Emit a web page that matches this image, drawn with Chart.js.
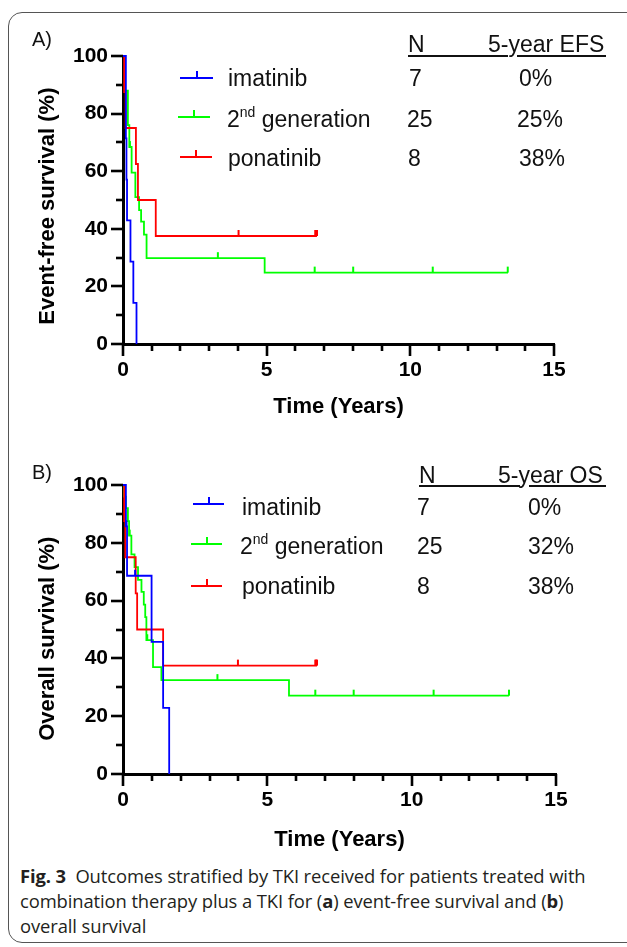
<!DOCTYPE html>
<html><head><meta charset="utf-8">
<script src="https://cdn.jsdelivr.net/npm/chart.js@4.4.1/dist/chart.umd.min.js"></script>
<style>
html,body{margin:0;padding:0;background:#fff;}
body{width:627px;height:947px;position:relative;overflow:hidden;font-family:"Liberation Sans",Arial,sans-serif;color:#111;}
.frame{position:absolute;left:8px;top:12px;width:680px;height:931px;border:1.3px solid #555;border-radius:14px;box-sizing:border-box;}
canvas.cv{position:absolute;left:0;}
.t{position:absolute;white-space:nowrap;line-height:24px;height:24px;}
.panel{font-size:20px;}
.lg{font-size:23px;}
.lg sup{font-size:14px;vertical-align:top;line-height:12px;position:relative;top:-1px;}
.ul{position:absolute;height:1.6px;background:#111;}
.icon{position:absolute;height:2px;}
.icon i{position:absolute;left:50%;top:-6px;width:2px;height:6px;margin-left:-1px;}
.cap{position:absolute;left:20px;top:863px;font-family:"Open Sans",sans-serif;font-size:18.4px;color:#231f20;line-height:25px;white-space:nowrap;letter-spacing:-0.1px;}
</style></head>
<body>
<div class="frame"></div>
<canvas id="chartA" class="cv" width="627" height="430" style="top:0px"></canvas>
<canvas id="chartB" class="cv" width="627" height="430" style="top:430px"></canvas>

<div class="t panel" style="left:32px;top:27px">A)</div>
<div class="t panel" style="left:32px;top:460px">B)</div>

<!-- legend A -->
<div class="t lg" style="left:408px;top:32px">N</div>
<div class="t lg" style="left:488px;top:32px">5-year EFS</div>
<div class="ul" style="left:408px;width:100px;top:55px"></div>
<div class="ul" style="left:517px;width:89px;top:55px"></div>
<div class="icon" style="left:180px;width:33px;top:77px;background:#0000ff"><i style="background:#0000ff"></i></div>
<div class="icon" style="left:178px;width:32px;top:116px;background:#00ff00"><i style="background:#00ff00"></i></div>
<div class="icon" style="left:180px;width:32px;top:156px;background:#ff0000"><i style="background:#ff0000"></i></div>
<div class="t lg" style="left:228px;top:66px">imatinib</div>
<div class="t lg" style="left:227px;top:107px">2<sup>nd</sup> generation</div>
<div class="t lg" style="left:228px;top:146px">ponatinib</div>
<div class="t lg" style="left:409px;top:66px">7</div>
<div class="t lg" style="left:407px;top:107px">25</div>
<div class="t lg" style="left:408px;top:146px">8</div>
<div class="t lg" style="left:519px;top:66px">0%</div>
<div class="t lg" style="left:517px;top:107px">25%</div>
<div class="t lg" style="left:519px;top:146px">38%</div>

<!-- legend B -->
<div class="t lg" style="left:419px;top:463px">N</div>
<div class="t lg" style="left:498px;top:463px">5-year OS</div>
<div class="ul" style="left:419px;width:101px;top:485px"></div>
<div class="ul" style="left:529px;width:77px;top:485px"></div>
<div class="icon" style="left:193px;width:31px;top:503px;background:#0000ff"><i style="background:#0000ff"></i></div>
<div class="icon" style="left:191px;width:31px;top:543px;background:#00ff00"><i style="background:#00ff00"></i></div>
<div class="icon" style="left:191px;width:31px;top:585px;background:#ff0000"><i style="background:#ff0000"></i></div>
<div class="t lg" style="left:242px;top:495px">imatinib</div>
<div class="t lg" style="left:240px;top:534px">2<sup>nd</sup> generation</div>
<div class="t lg" style="left:242px;top:574px">ponatinib</div>
<div class="t lg" style="left:417px;top:495px">7</div>
<div class="t lg" style="left:417px;top:534px">25</div>
<div class="t lg" style="left:417px;top:574px">8</div>
<div class="t lg" style="left:528px;top:495px">0%</div>
<div class="t lg" style="left:528px;top:534px">32%</div>
<div class="t lg" style="left:528px;top:574px">38%</div>

<div class="cap">
<div><b>Fig. 3</b>&nbsp; Outcomes stratified by TKI received for patients treated with</div>
<div>combination therapy plus a TKI for (<b>a</b>) event-free survival and (<b>b</b>)</div>
<div>overall survival</div>
</div>

<script>
// ---------- Data ----------
const xTickLabels = [0, 5, 10, 15];
const yTickLabels = [0, 20, 40, 60, 80, 100];

// Panel A: event-free survival
const efsTimeImatinib = [0, 0.10, 0.12, 0.14, 0.26, 0.36, 0.47];
const efsSurvImatinib = [100, 71.4, 57.1, 42.9, 28.6, 14.3, 0];
const efsCensorTimeImatinib = [];
const efsCensorSurvImatinib = [];

const efsTimeGen2 = [0, 0.07, 0.17, 0.22, 0.30, 0.43, 0.56, 0.63, 0.73, 0.82, 4.93, 13.4];
const efsSurvGen2 = [100, 88, 76, 68.4, 59.5, 51, 46.5, 42.5, 38, 29.8, 24.8, 24.8];
const efsCensorTimeGen2 = [0.24, 3.30, 6.67, 8.01, 10.78, 13.39];
const efsCensorSurvGen2 = [68.4, 29.8, 24.8, 24.8, 24.8, 24.8];

const efsTimePonatinib = [0, 0.04, 0.09, 0.45, 0.52, 1.14, 6.75];
const efsSurvPonatinib = [100, 87.5, 75, 62.5, 50, 37.5, 37.5];
const efsCensorTimePonatinib = [4.02, 6.69, 6.72, 6.75];
const efsCensorSurvPonatinib = [37.5, 37.5, 37.5, 37.5];

// Panel B: overall survival
const osTimeImatinib = [0, 0.10, 0.14, 0.99, 1.39, 1.60];
const osSurvImatinib = [100, 85.7, 68.6, 45.7, 22.9, 0];
const osCensorTimeImatinib = [0.12, 0.42];
const osCensorSurvImatinib = [85.7, 68.6];

const osTimeGen2 = [0, 0.03, 0.10, 0.17, 0.21, 0.29, 0.40, 0.52, 0.64, 0.72, 0.77, 0.81, 1.04, 1.33, 5.75, 13.37];
const osSurvGen2 = [100, 96, 92, 87.5, 82.5, 76, 71.6, 67.2, 63, 58.6, 54.3, 46.3, 37, 32.5, 27.1, 27.1];
const osCensorTimeGen2 = [0.23, 0.42, 0.84, 3.27, 6.66, 7.99, 10.76, 13.37];
const osCensorSurvGen2 = [82.5, 71.6, 46.3, 32.5, 27.1, 27.1, 27.1, 27.1];

const osTimePonatinib = [0, 0.04, 0.08, 0.44, 0.49, 1.39, 6.72];
const osSurvPonatinib = [100, 87.5, 75, 62.5, 50, 37.5, 37.5];
const osCensorTimePonatinib = [3.98, 6.66, 6.69, 6.72];
const osCensorSurvPonatinib = [37.5, 37.5, 37.5, 37.5];

// ---------- Styling ----------
const BLUE = '#0000ff', GREEN = '#00ff00', RED = '#ff0000';
const FONT = '"Liberation Sans", Arial, sans-serif';

function pairs(t, s) { return t.map((v, i) => ({x: v, y: s[i]})); }

function censorImg(color) {
  const c = document.createElement('canvas');
  c.width = 4; c.height = 14;
  const g = c.getContext('2d');
  g.fillStyle = color;
  g.fillRect(1, 1, 2, 6);
  return c;
}

function kmLine(t, s, color) {
  return {type: 'line', data: pairs(t, s), borderColor: color, borderWidth: 1.8,
    stepped: true, pointRadius: 0, fill: false, clip: false, tension: 0};
}
function censorSet(t, s, color) {
  return {type: 'scatter', data: pairs(t, s), showLine: false, pointStyle: censorImg(color),
    pointRadius: 3, borderColor: color, backgroundColor: color, clip: false};
}

const axisTicks = {
  id: 'axisTicks',
  afterDraw(chart) {
    const ctx = chart.ctx, xs = chart.scales.x, ys = chart.scales.y, a = chart.chartArea;
    ctx.save();
    ctx.strokeStyle = '#000';
    ctx.lineWidth = 2.6;
    xs.ticks.forEach(tk => {
      const px = Math.round(xs.getPixelForValue(tk.value));
      const len = xTickLabels.includes(tk.value) ? 12 : 7;
      ctx.beginPath(); ctx.moveTo(px, a.bottom); ctx.lineTo(px, a.bottom + len); ctx.stroke();
    });
    ys.ticks.forEach(tk => {
      const py = Math.round(ys.getPixelForValue(tk.value));
      const len = yTickLabels.includes(tk.value) ? 12 : 7;
      ctx.beginPath(); ctx.moveTo(a.left, py); ctx.lineTo(a.left - len, py); ctx.stroke();
    });
    ctx.restore();
  }
};

function makeChart(id, sets, yTitle, cfg) {
  return new Chart(document.getElementById(id), {
    data: {datasets: sets},
    options: {
      responsive: false, animation: false, devicePixelRatio: 1,
      layout: {padding: {left: 0, right: cfg.right, top: cfg.top, bottom: 0}},
      plugins: {legend: {display: false}, tooltip: {enabled: false}},
      scales: {
        x: {
          type: 'linear', min: 0, max: 15,
          afterFit: s => { s.height = cfg.xh; },
          ticks: {stepSize: 1, autoSkip: false, maxRotation: 0, padding: 14, color: '#000',
            font: {family: FONT, size: 21, weight: 'bold'},
            callback: v => xTickLabels.includes(v) ? String(v) : ''},
          grid: {drawOnChartArea: false, drawTicks: false},
          border: {display: true, color: '#000', width: 3},
          title: {display: true, text: 'Time (Years)', color: '#000',
            font: {family: FONT, size: 22, weight: 'bold'}, padding: {top: 0, bottom: cfg.tpb}}
        },
        y: {
          type: 'linear', min: 0, max: 100,
          afterFit: s => { s.width = 123; },
          ticks: {stepSize: 10, autoSkip: false, padding: 15, color: '#000',
            font: {family: FONT, size: 21, weight: 'bold'},
            callback: v => yTickLabels.includes(v) ? String(v) : ''},
          grid: {drawOnChartArea: false, drawTicks: false},
          border: {display: true, color: '#000', width: 3},
          title: {display: true, text: yTitle, color: '#000',
            font: {family: FONT, size: 22, weight: 'bold'}, padding: {top: 35, bottom: 0}}
        }
      }
    },
    plugins: [axisTicks]
  });
}

makeChart('chartA', [
  kmLine(efsTimeImatinib, efsSurvImatinib, BLUE),
  censorSet(efsCensorTimeImatinib, efsCensorSurvImatinib, BLUE),
  kmLine(efsTimePonatinib, efsSurvPonatinib, RED),
  censorSet(efsCensorTimePonatinib, efsCensorSurvPonatinib, RED),
  kmLine(efsTimeGen2, efsSurvGen2, GREEN),
  censorSet(efsCensorTimeGen2, efsCensorSurvGen2, GREEN)
], 'Event-free survival (%)  ', {right: 73, top: 56, xh: 86, tpb: 10});

makeChart('chartB', [
  kmLine(osTimeImatinib, osSurvImatinib, BLUE),
  censorSet(osCensorTimeImatinib, osCensorSurvImatinib, BLUE),
  kmLine(osTimePonatinib, osSurvPonatinib, RED),
  censorSet(osCensorTimePonatinib, osCensorSurvPonatinib, RED),
  kmLine(osTimeGen2, osSurvGen2, GREEN),
  censorSet(osCensorTimeGen2, osCensorSurvGen2, GREEN)
], 'Overall survival (%)   ', {right: 71, top: 55, xh: 86, tpb: 7});
</script>
</body></html>
